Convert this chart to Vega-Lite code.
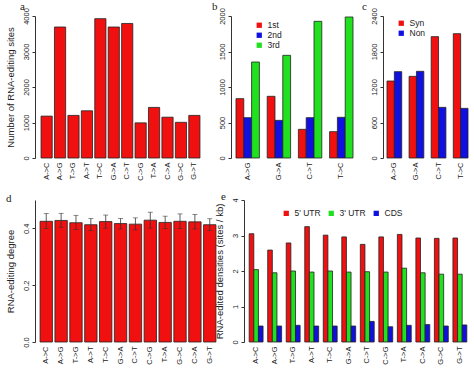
{
  "$schema": "https://vega.github.io/schema/vega-lite/v6.json",
  "padding": {"left": 4, "top": 0, "right": 0, "bottom": 0},
  "background": "white",
  "config": {
    "font": "Liberation Sans",
    "view": {"stroke": null},
    "axis": {"labelFont": "Liberation Sans", "labelFontSize": 7.5, "labelColor": "#222", "domainColor": "#333", "tickColor": "#333", "titleFont": "Liberation Sans", "titleFontWeight": "normal", "titleFontSize": 9.5, "titleColor": "#222", "grid": false},
    "axisY": {"labelAngle": -90, "labelAlign": "center", "labelBaseline": "bottom", "tickSize": 3, "labelPadding": 2, "titlePadding": 7},
    "axisX": {"domain": false, "ticks": false, "labelAngle": -90, "labelPadding": 4, "title": null},
    "legend": {"padding": 0, "labelFont": "Liberation Sans", "labelFontSize": 8.5, "labelColor": "#222", "symbolType": "square", "symbolSize": 28, "symbolStrokeWidth": 0, "labelOffset": 4, "rowPadding": 1, "title": null},
    "title": {"font": "Liberation Serif", "fontSize": 11, "fontWeight": "normal", "anchor": "start", "frame": "group", "baseline": "alphabetic", "offset": -4, "color": "#222"}
  },
  "datasets": {
    "counts": [
      {"mutation": "A->C", "sites": 1180},
      {"mutation": "A->G", "sites": 3690},
      {"mutation": "T->G", "sites": 1200},
      {"mutation": "A->T", "sites": 1330},
      {"mutation": "T->C", "sites": 3925},
      {"mutation": "G->A", "sites": 3690},
      {"mutation": "C->T", "sites": 3790},
      {"mutation": "C->G", "sites": 990},
      {"mutation": "T->A", "sites": 1425},
      {"mutation": "C->A", "sites": 1150},
      {"mutation": "G->C", "sites": 1005},
      {"mutation": "G->T", "sites": 1200}
    ],
    "codon": [
      {"mutation": "A->G", "position": "1st", "count": 836},
      {"mutation": "A->G", "position": "2nd", "count": 568},
      {"mutation": "A->G", "position": "3rd", "count": 1352},
      {"mutation": "G->A", "position": "1st", "count": 869},
      {"mutation": "G->A", "position": "2nd", "count": 530},
      {"mutation": "G->A", "position": "3rd", "count": 1446},
      {"mutation": "C->T", "position": "1st", "count": 404},
      {"mutation": "C->T", "position": "2nd", "count": 568},
      {"mutation": "C->T", "position": "3rd", "count": 1925},
      {"mutation": "T->C", "position": "1st", "count": 371},
      {"mutation": "T->C", "position": "2nd", "count": 573},
      {"mutation": "T->C", "position": "3rd", "count": 1986}
    ],
    "syn": [
      {"mutation": "A->G", "type": "Syn", "count": 1301},
      {"mutation": "A->G", "type": "Non", "count": 1459},
      {"mutation": "G->A", "type": "Syn", "count": 1380},
      {"mutation": "G->A", "type": "Non", "count": 1465},
      {"mutation": "C->T", "type": "Syn", "count": 2051},
      {"mutation": "C->T", "type": "Non", "count": 856},
      {"mutation": "T->C", "type": "Syn", "count": 2101},
      {"mutation": "T->C", "type": "Non", "count": 839}
    ],
    "degree": [
      {"mutation": "A->C", "degree": 0.425, "lo": 0.400, "hi": 0.452},
      {"mutation": "A->G", "degree": 0.428, "lo": 0.404, "hi": 0.453},
      {"mutation": "T->G", "degree": 0.420, "lo": 0.396, "hi": 0.446},
      {"mutation": "A->T", "degree": 0.413, "lo": 0.392, "hi": 0.435},
      {"mutation": "T->C", "degree": 0.424, "lo": 0.401, "hi": 0.447},
      {"mutation": "G->A", "degree": 0.417, "lo": 0.398, "hi": 0.435},
      {"mutation": "C->T", "degree": 0.415, "lo": 0.395, "hi": 0.437},
      {"mutation": "C->G", "degree": 0.429, "lo": 0.401, "hi": 0.457},
      {"mutation": "T->A", "degree": 0.421, "lo": 0.399, "hi": 0.443},
      {"mutation": "G->C", "degree": 0.425, "lo": 0.400, "hi": 0.451},
      {"mutation": "C->A", "degree": 0.423, "lo": 0.398, "hi": 0.449},
      {"mutation": "G->T", "degree": 0.413, "lo": 0.393, "hi": 0.434}
    ],
    "density": [
      {"mutation": "A->C", "region": "5' UTR", "density": 3.05},
      {"mutation": "A->C", "region": "3' UTR", "density": 2.04},
      {"mutation": "A->C", "region": "CDS", "density": 0.45},
      {"mutation": "A->G", "region": "5' UTR", "density": 2.59},
      {"mutation": "A->G", "region": "3' UTR", "density": 1.95},
      {"mutation": "A->G", "region": "CDS", "density": 0.45},
      {"mutation": "T->G", "region": "5' UTR", "density": 2.79},
      {"mutation": "T->G", "region": "3' UTR", "density": 2.0},
      {"mutation": "T->G", "region": "CDS", "density": 0.47},
      {"mutation": "A->T", "region": "5' UTR", "density": 3.25},
      {"mutation": "A->T", "region": "3' UTR", "density": 1.97},
      {"mutation": "A->T", "region": "CDS", "density": 0.45},
      {"mutation": "T->C", "region": "5' UTR", "density": 3.01},
      {"mutation": "T->C", "region": "3' UTR", "density": 2.0},
      {"mutation": "T->C", "region": "CDS", "density": 0.45},
      {"mutation": "G->A", "region": "5' UTR", "density": 2.96},
      {"mutation": "G->A", "region": "3' UTR", "density": 1.97},
      {"mutation": "G->A", "region": "CDS", "density": 0.45},
      {"mutation": "C->T", "region": "5' UTR", "density": 2.75},
      {"mutation": "C->T", "region": "3' UTR", "density": 1.98},
      {"mutation": "C->T", "region": "CDS", "density": 0.58},
      {"mutation": "C->G", "region": "5' UTR", "density": 2.96},
      {"mutation": "C->G", "region": "3' UTR", "density": 1.97},
      {"mutation": "C->G", "region": "CDS", "density": 0.43},
      {"mutation": "T->A", "region": "5' UTR", "density": 3.03},
      {"mutation": "T->A", "region": "3' UTR", "density": 2.08},
      {"mutation": "T->A", "region": "CDS", "density": 0.47},
      {"mutation": "C->A", "region": "5' UTR", "density": 2.93},
      {"mutation": "C->A", "region": "3' UTR", "density": 1.95},
      {"mutation": "C->A", "region": "CDS", "density": 0.49},
      {"mutation": "G->C", "region": "5' UTR", "density": 2.92},
      {"mutation": "G->C", "region": "3' UTR", "density": 1.91},
      {"mutation": "G->C", "region": "CDS", "density": 0.45},
      {"mutation": "G->T", "region": "5' UTR", "density": 2.93},
      {"mutation": "G->T", "region": "3' UTR", "density": 1.91},
      {"mutation": "G->T", "region": "CDS", "density": 0.48}
    ]
  },
  "spacing": 9,
  "resolve": {"scale": {"color": "independent", "xOffset": "independent"}, "legend": {"color": "independent"}},
  "vconcat": [
    {
      "bounds": "flush",
      "spacing": 25,
      "resolve": {"scale": {"color": "independent", "xOffset": "independent"}, "legend": {"color": "independent"}},
      "hconcat": [
        {
          "width": 171, "height": 142,
          "data": {"name": "counts"},
          "title": {"text": "a", "dx": -15},
          "mark": {"type": "bar", "fill": "#f01010", "stroke": "#222", "strokeWidth": 0.8},
          "encoding": {
            "x": {"field": "mutation", "type": "nominal", "sort": null, "scale": {"paddingInner": 0.1667, "paddingOuter": 0.45}},
            "y": {"field": "sites", "type": "quantitative", "scale": {"domain": [0, 4000], "nice": false}, "axis": {"values": [0, 1000, 2000, 3000, 4000], "format": "d", "title": "Number of RNA-editing sites"}}
          }
        },
        {
          "width": 127, "height": 142,
          "data": {"name": "codon"},
          "title": {"text": "b", "dx": -19},
          "mark": {"type": "bar", "stroke": "#222", "strokeWidth": 0.8},
          "encoding": {
            "x": {"field": "mutation", "type": "nominal", "sort": null, "scale": {"paddingInner": 0.25, "paddingOuter": 0.16}},
            "xOffset": {"field": "position", "type": "nominal", "scale": {"domain": ["1st", "2nd", "3rd"], "paddingInner": 0, "paddingOuter": 0}},
            "y": {"field": "count", "type": "quantitative", "scale": {"domain": [0, 2000], "nice": false}, "axis": {"values": [0, 500, 1000, 1500, 2000], "format": "d", "title": null}},
            "color": {"field": "position", "type": "nominal", "scale": {"domain": ["1st", "2nd", "3rd"], "range": ["#f01010", "#1010e0", "#20e020"]}, "legend": {"orient": "none", "legendX": 24, "legendY": 5}}
          }
        },
        {
          "width": 89, "height": 142,
          "data": {"name": "syn"},
          "title": {"text": "c", "dx": -21},
          "mark": {"type": "bar", "stroke": "#222", "strokeWidth": 0.8},
          "encoding": {
            "x": {"field": "mutation", "type": "nominal", "sort": null, "scale": {"paddingInner": 0.3333, "paddingOuter": 0.18}},
            "xOffset": {"field": "type", "type": "nominal", "scale": {"domain": ["Syn", "Non"], "paddingInner": 0, "paddingOuter": 0}},
            "y": {"field": "count", "type": "quantitative", "scale": {"domain": [0, 2400], "nice": false}, "axis": {"values": [0, 600, 1200, 1800, 2400], "format": "d", "title": null}},
            "color": {"field": "type", "type": "nominal", "scale": {"domain": ["Syn", "Non"], "range": ["#f01010", "#1010e0"]}, "legend": {"orient": "none", "legendX": 14, "legendY": 3}}
          }
        }
      ]
    },
    {
      "bounds": "flush",
      "spacing": 23,
      "resolve": {"scale": {"color": "independent", "xOffset": "independent"}, "legend": {"color": "independent"}},
      "hconcat": [
        {
          "width": 186, "height": 142,
          "data": {"name": "degree"},
          "title": {"text": "d", "dx": -29},
          "encoding": {
            "x": {"field": "mutation", "type": "nominal", "sort": null, "scale": {"paddingInner": 0.1667, "paddingOuter": 0.34}}
          },
          "layer": [
            {
              "mark": {"type": "bar", "fill": "#f01010", "stroke": "#222", "strokeWidth": 0.8},
              "encoding": {
                "y": {"field": "degree", "type": "quantitative", "scale": {"domain": [0, 0.5], "nice": false}, "axis": {"values": [0, 0.1, 0.2, 0.3, 0.4, 0.5], "format": ".1f", "title": "RNA-editing degree"}}
              }
            },
            {
              "mark": {"type": "rule", "color": "#333", "strokeWidth": 0.8},
              "encoding": {"y": {"field": "lo", "type": "quantitative"}, "y2": {"field": "hi"}}
            },
            {
              "mark": {"type": "tick", "color": "#333", "size": 5, "thickness": 0.8, "orient": "horizontal"},
              "encoding": {"y": {"field": "hi", "type": "quantitative"}}
            },
            {
              "mark": {"type": "tick", "color": "#333", "size": 5, "thickness": 0.8, "orient": "horizontal"},
              "encoding": {"y": {"field": "lo", "type": "quantitative"}}
            }
          ]
        },
        {
          "width": 228, "height": 142,
          "data": {"name": "density"},
          "title": {"text": "e", "dx": -23},
          "mark": {"type": "bar", "stroke": "#222", "strokeWidth": 0.8},
          "encoding": {
            "x": {"field": "mutation", "type": "nominal", "sort": null, "scale": {"paddingInner": 0.25, "paddingOuter": 0.28}},
            "xOffset": {"field": "region", "type": "nominal", "scale": {"domain": ["5' UTR", "3' UTR", "CDS"], "paddingInner": 0, "paddingOuter": 0}},
            "y": {"field": "density", "type": "quantitative", "scale": {"domain": [0, 4], "nice": false}, "axis": {"values": [0, 1, 2, 3, 4], "title": "RNA-edited densities (sites / kb)"}},
            "color": {"field": "region", "type": "nominal", "scale": {"domain": ["5' UTR", "3' UTR", "CDS"], "range": ["#f01010", "#20e020", "#1010e0"]}, "legend": {"orient": "none", "direction": "horizontal", "legendX": 38, "legendY": 9, "columnPadding": 6}}
          }
        }
      ]
    }
  ]
}
